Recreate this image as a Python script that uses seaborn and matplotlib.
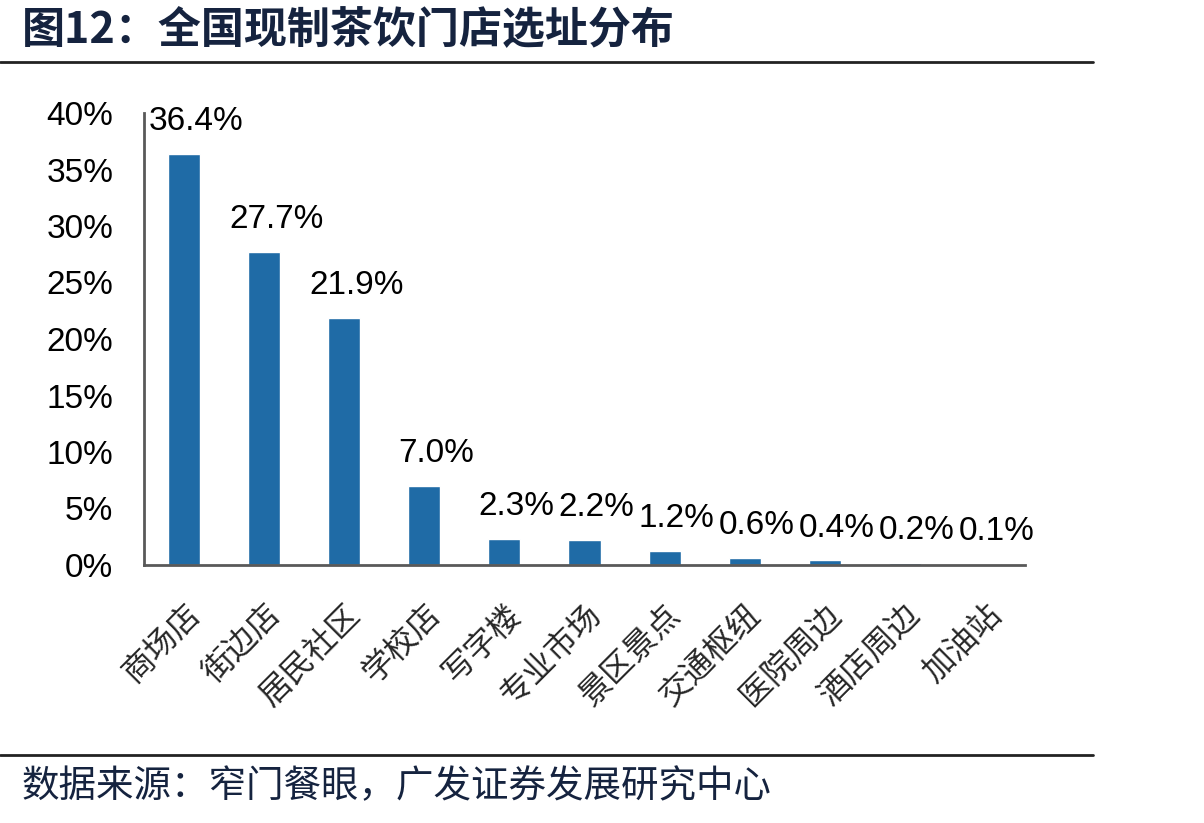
import matplotlib
matplotlib.use("Agg")
import matplotlib.pyplot as plt
import seaborn as sns
import numpy as np
import pandas as pd

categories = ["商场店", "街边店", "居民社区", "学校店", "写字楼", "专业市场", "景区景点",
              "交通枢纽", "医院周边", "酒店周边", "加油站"]
values = [36.4, 27.7, 21.9, 7.0, 2.3, 2.2, 1.2, 0.6, 0.4, 0.2, 0.1]
yticks = [0, 5, 10, 15, 20, 25, 30, 35, 40]
title = "图12：全国现制茶饮门店选址分布"
source = "数据来源：窄门餐眼，广发证券发展研究中心"

sns.set_theme(style="white")
plt.rcParams['font.family'] = ['Liberation Sans', 'Noto Sans CJK SC', 'DejaVu Sans']

W, H = 1204, 823
fig = plt.figure(figsize=(W / 100, H / 100), dpi=100)
ax = fig.add_axes([144 / W, 1 - 565 / H, (1025 - 144) / W, (565 - 113) / H])

df = pd.DataFrame({"cat": categories, "val": values})
sns.barplot(data=df, x="cat", y="val", color="#1F6BA6", saturation=1, width=0.4, ax=ax)

ax.set_ylim(0, 40)
ax.set_xlim(-0.5, len(categories) - 0.5)
ax.set_yticks(yticks)
ax.set_yticklabels([f"{t}%" for t in yticks], fontsize=24, color="black",
                   family=['Liberation Sans'])
ax.set_xticks(range(len(categories)))
ax.set_xticklabels(categories, rotation=45, ha="right", rotation_mode="anchor",
                   fontsize=23, family=['Noto Sans CJK SC'])
ax.tick_params(axis="x", which="major", length=0, pad=24)
ax.set_xticks(np.arange(-0.5, len(categories), 1), minor=True)
ax.tick_params(axis="x", which="minor", length=8, width=2, color="#595959", direction="out")
ax.tick_params(axis="y", length=8, width=2, color="#595959", direction="out", pad=14)
ax.set_xlabel("")
ax.set_ylabel("")
for s in ["top", "right"]:
    ax.spines[s].set_visible(False)
for s in ["left", "bottom"]:
    ax.spines[s].set_color("#595959")
    ax.spines[s].set_linewidth(2)

for i, v in enumerate(values):
    ax.text(i + 0.15, v + 1.5, f"{v:.1f}%", ha="center", va="bottom", fontsize=24,
            family=['Liberation Sans'], color="black")

navy = "#15233F"
fig.text(22 / W, 1 - 30 / H, title, fontsize=31, fontweight="bold", color=navy,
         va="center", ha="left", family=['Noto Sans CJK SC', 'DejaVu Sans'])
fig.add_artist(plt.Line2D([0, 1093 / W], [1 - 62 / H, 1 - 62 / H], color="#222222", lw=2))
fig.add_artist(plt.Line2D([0, 1093 / W], [1 - 755 / H, 1 - 755 / H], color="#222222", lw=2))
fig.text(22 / W, 1 - 787 / H, source, fontsize=27, color=navy, va="center", ha="left",
         family=['Noto Sans CJK SC', 'DejaVu Sans'])

fig.savefig("out.png", dpi=100)
